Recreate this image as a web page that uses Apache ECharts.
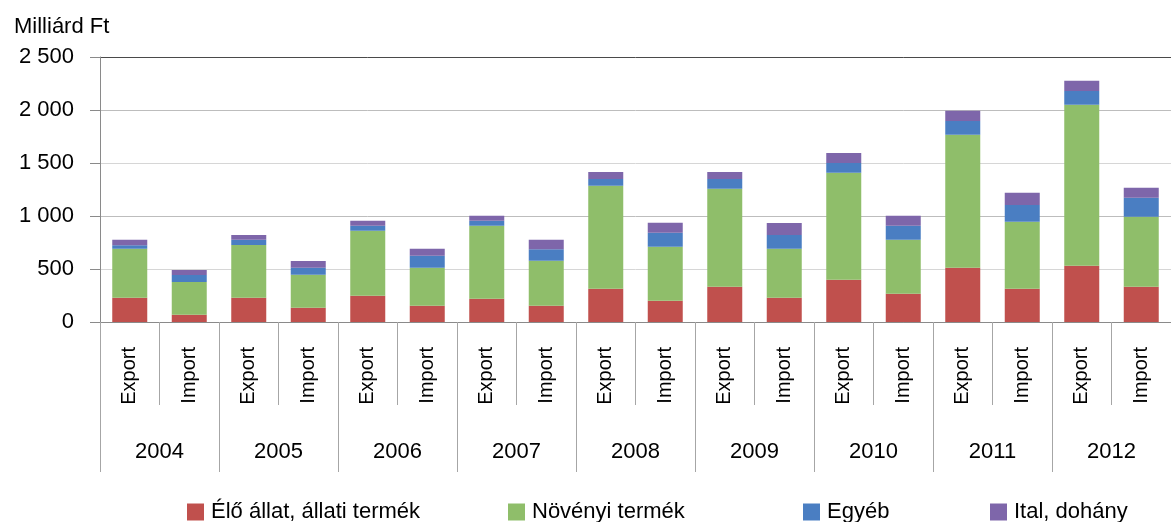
<!DOCTYPE html>
<html>
<head>
<meta charset="utf-8">
<script src="https://cdn.jsdelivr.net/npm/echarts@6/dist/echarts.min.js"></script>
<style>
  html, body { margin: 0; padding: 0; background: #fff; }
  #main { width: 1171px; height: 522px; }
</style>
</head>
<body>
<div id="main"></div>
<script>
// évek és irányok
const years = ['2004', '2005', '2006', '2007', '2008', '2009', '2010', '2011', '2012'];
const flows = ['Export', 'Import'];

// Milliárd Ft, Export/Import váltakozva
const elo = [229, 69, 229, 135, 248, 154, 220, 154, 314, 201, 333, 229, 399, 267, 512, 314, 531, 333];
const noveny = [462, 308, 497, 311, 613, 358, 689, 425, 972, 510, 925, 462, 1010, 509, 1255, 632, 1519, 660];
const egyeb = [32, 66, 50, 66, 48, 114, 47, 107, 63, 132, 91, 130, 91, 133, 129, 158, 129, 180];
const ital = [53, 48, 45, 63, 47, 66, 47, 91, 66, 94, 66, 113, 94, 94, 98, 116, 97, 94];

const seriesNames = ['Élő állat, állati termék', 'Növényi termék', 'Egyéb', 'Ital, dohány'];
const colors = ['#C0504D', '#8FBE6A', '#4A7EC2', '#7E66AA'];
const yTicks = [0, 500, 1000, 1500, 2000, 2500];

const categories = [];
years.forEach((y) => {
    flows.forEach((f) => categories.push(f));
});

const font = 'Liberation Sans, Arial, sans-serif';
const myChart = echarts.init(document.getElementById('main'));

// egy-egy jelmagyarázat elem, külön pozícióval
const legendLeft = [187, 508, 803, 990];
const legends = seriesNames.map((n, i) => ({
    left: legendLeft[i],
    top: 501,
    data: [n],
    icon: 'rect',
    itemWidth: 17,
    itemHeight: 17,
    padding: 0,
    textStyle: { fontFamily: font, fontSize: 22, color: '#000', padding: [0, 0, 0, 2] }
}));

const option = {
    animation: false,
    color: colors,
    title: {
        text: 'Milliárd Ft',
        left: 9,
        top: 11,
        textStyle: { fontFamily: font, fontSize: 22, fontWeight: 'normal', color: '#000' }
    },
    legend: legends,
    grid: { left: 100, top: 57, width: 1080, height: 265 },
    xAxis: [{
        type: 'category',
        data: categories,
        position: 'bottom',
        axisLine: { lineStyle: { color: '#8a8a8a', width: 1 } },
        axisTick: { show: true, interval: 0, length: 83, lineStyle: { color: '#a6a6a6' } },
        axisLabel: {
            interval: 0, rotate: 90, margin: 25,
            fontFamily: font, fontSize: 20, color: '#000'
        }
    }, {
        type: 'category',
        data: years,
        position: 'bottom',
        offset: 0,
        axisLine: { show: false },
        axisTick: { show: true, interval: 0, length: 150, lineStyle: { color: '#a6a6a6' } },
        axisLabel: {
            interval: 0, margin: 119,
            fontFamily: font, fontSize: 22, color: '#000'
        }
    }],
    yAxis: {
        type: 'value',
        min: yTicks[0],
        max: yTicks[yTicks.length - 1],
        interval: 500,
        axisLine: { show: true, lineStyle: { color: '#8a8a8a' } },
        axisTick: { show: true, length: 10, lineStyle: { color: '#8a8a8a' } },
        axisLabel: {
            margin: 26, fontFamily: font, fontSize: 22, color: '#000',
            formatter: (v) => String(v).replace(/\B(?=(\d{3})+(?!\d))/g, ' ')
        },
        splitLine: {
            lineStyle: { color: ['#8a8a8a', '#d6d6d6', '#bdbdbd', '#d6d6d6', '#bdbdbd', '#4a4a4a'], width: 1 }
        }
    },
    series: [elo, noveny, egyeb, ital].map((d, i) => ({
        name: seriesNames[i],
        type: 'bar',
        stack: 'total',
        xAxisIndex: 0,
        barWidth: 35,
        data: d
    }))
};

myChart.setOption(option);
</script>
</body>
</html>
